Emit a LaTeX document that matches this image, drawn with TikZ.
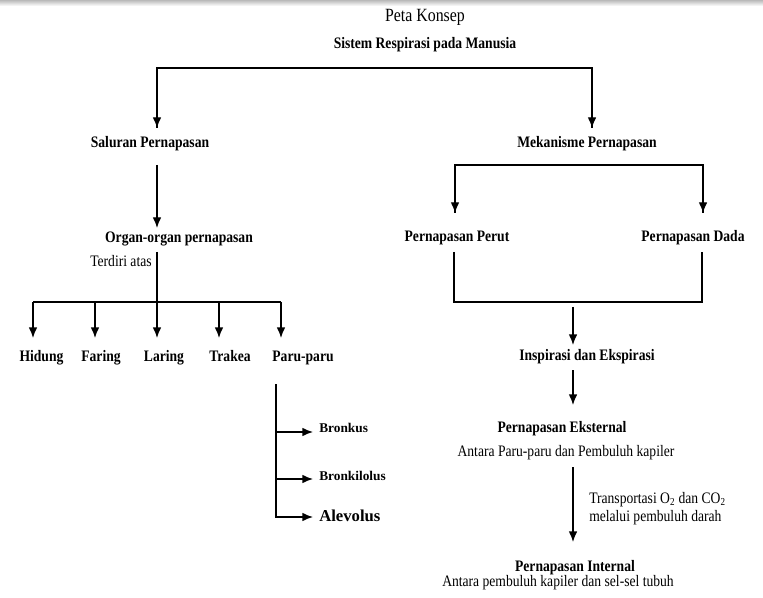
\documentclass[tikz,border=0pt]{standalone}
\usepackage{fontspec}
\setmainfont{Liberation Serif}[FakeStretch=0.85]
\newfontfamily\plainserif{Liberation Serif}
\usetikzlibrary{arrows.meta}
\tikzset{
  lbl/.style={inner sep=0pt, text height=0.68em, text depth=0.05em, font=\fontsize{12}{14}\selectfont},
  blbl/.style={lbl, font=\fontsize{12}{14}\selectfont\bfseries},
  sublbl/.style={lbl, anchor=west, font=\plainserif\fontsize{10}{12}\selectfont\bfseries},
  conn/.style={line width=1pt},
  arr/.style={line width=1pt, -{Latex[length=8pt,width=6.5pt]}},
}
\begin{document}
\begin{tikzpicture}[x=0.75pt,y=-0.75pt]
\useasboundingbox (0,0) rectangle (763,598);
\shade[top color=gray!55, bottom color=white] (0,0) rectangle (763,6);
% titles
\node[lbl, font=\fontsize{14}{16}\selectfont] (peta) at (425,17) {Peta Konsep};
\node[blbl] (sistem) at (425,44) {Sistem Respirasi pada Manusia};
% level 1
\node[blbl] (saluran) at (150,143) {Saluran Pernapasan};
\node[blbl] (mekanisme) at (587,143) {Mekanisme Pernapasan};
\coordinate (tl) at (157,68);
\coordinate (tr) at (592,68);
\coordinate (tlb) at (157,128);
\coordinate (trb) at (592,128);
\draw[conn] (tlb) -- (tl) -- (tr) -- (trb);
\draw[arr] (tl) -- (tlb);
\draw[arr] (tr) -- (trb);
% left branch
\node[blbl] (organ) at (179,238) {Organ-organ pernapasan};
\coordinate (s1) at (157,165);
\coordinate (s2) at (157,228);
\draw[arr] (s1) -- (s2);
\node[lbl, anchor=west] (terdiri) at (90,262) {Terdiri atas};
\coordinate (o1) at (157,252);
\coordinate (o2) at (157,302);
\coordinate (hl) at (33,302);
\coordinate (hr) at (281,302);
\draw[conn] (o1) -- (o2);
\draw[conn] (hl) -- (hr);
\node[blbl] (hidung) at (41.5,357) {Hidung};
\node[blbl] (faring) at (101,357) {Faring};
\node[blbl] (laring) at (164,357) {Laring};
\node[blbl] (trakea) at (230,357) {Trakea};
\node[blbl] (paru) at (303,357) {Paru-paru};
\foreach \x/\n in {33/a,95/b,157/c,219/d,281/e}{
  \coordinate (top\n) at (\x,302);
  \coordinate (bot\n) at (\x,338);
  \draw[arr] (top\n) -- (bot\n);
}
% paru-paru sub branches
\coordinate (p1) at (276,384);
\coordinate (p2) at (276,518);
\draw[conn] (p1) -- (p2);
\node[sublbl] (bronkus) at (319,428) {Bronkus};
\node[sublbl] (bronkilolus) at (319,476) {Bronkilolus};
\node[sublbl, font=\plainserif\fontsize{12.5}{14}\selectfont\bfseries] (alevolus) at (319,517) {Alevolus};
\coordinate (b1) at (276,432);
\coordinate (b1e) at (313,432);
\coordinate (b2) at (276,479);
\coordinate (b2e) at (313,479);
\coordinate (b3) at (276,517);
\coordinate (b3e) at (313,517);
\draw[arr] (b1) -- (b1e);
\draw[arr] (b2) -- (b2e);
\draw[arr] (b3) -- (b3e);
% right branch
\coordinate (m1) at (455,165);
\coordinate (m2) at (703,165);
\coordinate (m1b) at (455,213);
\coordinate (m2b) at (703,213);
\draw[conn] (m1b) -- (m1) -- (m2) -- (m2b);
\draw[arr] (m1) -- (m1b);
\draw[arr] (m2) -- (m2b);
\node[blbl] (perut) at (457,237) {Pernapasan Perut};
\node[blbl] (dada) at (693,237) {Pernapasan Dada};
\coordinate (k1) at (454,252);
\coordinate (k2) at (454,302);
\coordinate (k3) at (702,302);
\coordinate (k4) at (702,252);
\draw[conn] (k1) -- (k2) -- (k3) -- (k4);
\coordinate (i1) at (573,307);
\coordinate (i2) at (573,345);
\draw[arr] (i1) -- (i2);
\node[blbl] (inspirasi) at (587,356) {Inspirasi dan Ekspirasi};
\coordinate (e1) at (573,370);
\coordinate (e2) at (573,405);
\draw[arr] (e1) -- (e2);
\node[blbl] (eksternal) at (562,428) {Pernapasan Eksternal};
\node[lbl] (antara1) at (566,452) {Antara Paru-paru dan Pembuluh kapiler};
\coordinate (t1) at (573,467);
\coordinate (t2) at (573,542);
\draw[arr] (t1) -- (t2);
\node[lbl, anchor=west] (transport) at (589,499) {Transportasi O\textsubscript{2} dan CO\textsubscript{2}};
\node[lbl, anchor=west] (melalui) at (589,517) {melalui pembuluh darah};
\node[blbl] (internal) at (575,567) {Pernapasan Internal};
\node[lbl] (antara2) at (558,582) {Antara pembuluh kapiler dan sel-sel tubuh};
\end{tikzpicture}
\end{document}
